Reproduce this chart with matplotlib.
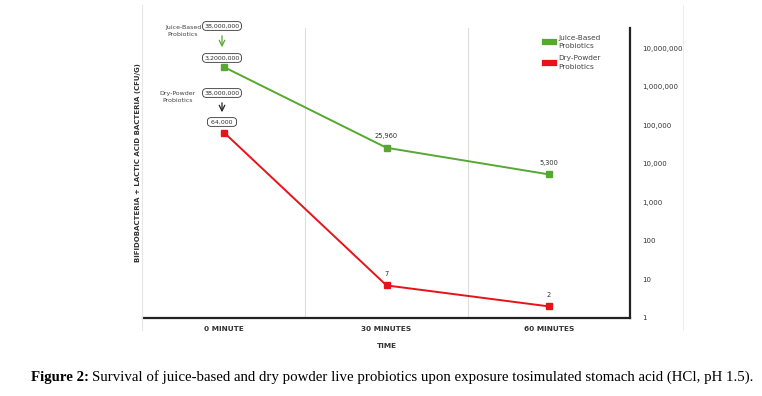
import numpy as np
import matplotlib
matplotlib.use('Agg')
import matplotlib.pyplot as plt

# data
times = ['0 MINUTE', '30 MINUTES', '60 MINUTES']
juice = [3200000, 25960, 5300]
dry = [64000, 7, 2]
juice_labels = ['', '25,960', '5,300']
dry_labels = ['', '7', '2']
ytick_vals = [1, 10, 100, 1000, 10000, 100000, 1000000, 10000000]
ytick_text = ['1', '10', '100', '1,000', '10,000', '100,000', '1,000,000', '10,000,000']

green = '#56a833'
red = '#e8121a'

plt.rcParams['font.family'] = ['DejaVu Sans']

fig = plt.figure(figsize=(7.62, 3.96), dpi=100)
ax = fig.add_axes([143/762, 1-318/396, 487/762, 290/396])

x = np.arange(len(times))
ax.plot(x, juice, color=green, lw=1.4, marker='s', ms=4.5, label='Juice-Based\nProbiotics')
ax.plot(x, dry, color=red, lw=1.4, marker='s', ms=4.5, label='Dry-Powder\nProbiotics')
ax.set_yscale('log')
ax.set_xlim(-0.5, 2.5)
ax.set_ylim(1, 10**7.52)

for xi, v, t in zip(x, juice, juice_labels):
    if t:
        ax.annotate(t, (xi, v), xytext=(0, 6), textcoords='offset points',
                    ha='center', va='bottom', fontsize=4.8, color='#333333')
for xi, v, t in zip(x, dry, dry_labels):
    if t:
        ax.annotate(t, (xi, v), xytext=(0, 6), textcoords='offset points',
                    ha='center', va='bottom', fontsize=4.8, color='#333333')

# spines
for s in ['top', 'left']:
    ax.spines[s].set_visible(False)
for s in ['bottom', 'right']:
    ax.spines[s].set_linewidth(1.6)
    ax.spines[s].set_color('#222222')

ax.set_xticks(x)
ax.set_xticklabels(times, fontsize=5.3, fontweight='bold', color='#333333')
ax.tick_params(axis='x', length=0, pad=6)

ax.yaxis.tick_right()
ax.set_yticks(ytick_vals)
ax.set_yticklabels(ytick_text, fontsize=5, color='#333333')
ax.minorticks_off()
ax.set_xticks([0.5, 1.5], minor=True)
ax.grid(True, which='minor', axis='x', color='#dddddd', lw=0.8)
ax.tick_params(axis='y', length=0, pad=9)
ax.tick_params(axis='x', which='minor', length=0)

ax.set_xlabel('TIME', fontsize=5.3, fontweight='bold', color='#333333', labelpad=8)
fig.text(138/762, 1-163/396, 'BIFIDOBACTERIA + LACTIC ACID BACTERIA (CFU/G)',
         rotation=90, ha='center', va='center', fontsize=5, fontweight='bold', color='#333333')

leg = ax.legend(loc='upper left', bbox_to_anchor=(0.812, 1.0), frameon=False,
                fontsize=5.3, handlelength=1.2, handleheight=0.5, labelspacing=0.85,
                handletextpad=0.6)
for h in leg.legend_handles:
    h.set_marker('')
    h.set_linewidth(4.5)
for t in leg.get_texts():
    t.set_color('#444444')
    t.set_linespacing(1.5)

# initial counts annotation
box = dict(boxstyle='round,pad=0.3,rounding_size=0.6', fc='white', ec='#333333', lw=0.6)
fig.text(183/762, 1-31/396, 'Juice-Based\nProbiotics', ha='center', va='center',
         fontsize=4.5, color='#444444', linespacing=1.3)
fig.text(222/762, 1-26/396, '38,000,000', ha='center', va='center', fontsize=4.5,
         color='#333333', bbox=box)
fig.text(222/762, 1-58/396, '3,2000,000', ha='center', va='center', fontsize=4.5,
         color='#333333', bbox=box)
fig.text(178/762, 1-97/396, 'Dry-Powder\nProbiotics', ha='center', va='center',
         fontsize=4.5, color='#444444', linespacing=1.3)
fig.text(222/762, 1-93/396, '38,000,000', ha='center', va='center', fontsize=4.5,
         color='#333333', bbox=box)
fig.text(222/762, 1-122/396, ' 64,000 ', ha='center', va='center', fontsize=4.5,
         color='#333333', bbox=box)
ax.annotate('', xy=(222/762, 1-50/396), xytext=(222/762, 1-33/396),
            xycoords='figure fraction', textcoords='figure fraction',
            arrowprops=dict(arrowstyle='->', color=green, lw=0.9))
ax.annotate('', xy=(222/762, 1-115/396), xytext=(222/762, 1-100/396),
            xycoords='figure fraction', textcoords='figure fraction',
            arrowprops=dict(arrowstyle='->', color='#222222', lw=0.9))

# faint borders of the embedded chart image
fig.add_artist(plt.Line2D([142/762, 142/762], [1-330/396, 1-5/396], color='#e6e6e6', lw=0.8))
fig.add_artist(plt.Line2D([683/762, 683/762], [1-330/396, 1-5/396], color='#eeeeee', lw=0.8))

fig.text(31/762, 1-377/396, 'Figure 2:', ha='left', va='center', fontsize=10.7,
         fontweight='bold', family='Liberation Serif')
fig.text(753/762, 1-377/396,
         'Survival of juice-based and dry powder live probiotics upon exposure tosimulated stomach acid (HCl, pH 1.5).',
         ha='right', va='center', fontsize=10.7, family='Liberation Serif')

fig.savefig('out.png', dpi=100)
